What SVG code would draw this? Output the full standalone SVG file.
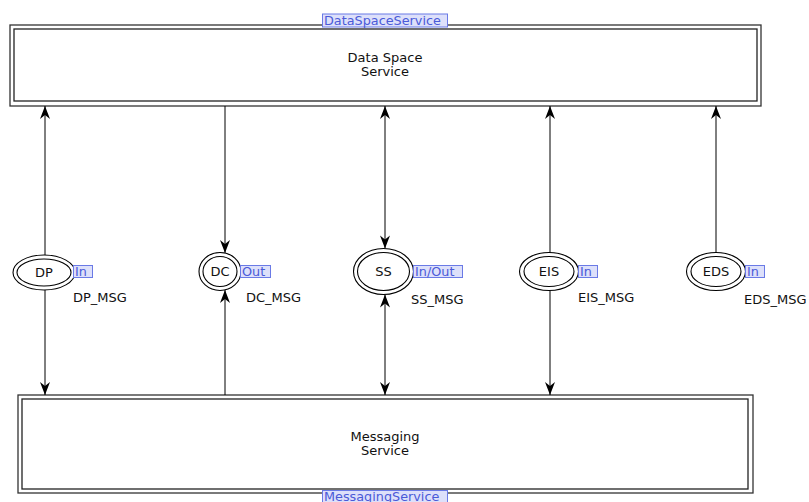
<svg xmlns="http://www.w3.org/2000/svg" width="809" height="502" viewBox="0 0 809 502">
<style>
  .t { font-family: "DejaVu Sans", Verdana, sans-serif; font-size: 13px; fill: #111; }
  .c { text-anchor: middle; }
  .lb { fill: #dde0fa; stroke: #6a7ae6; stroke-width: 1; }
  .lt { font-family: "DejaVu Sans", Verdana, sans-serif; font-size: 12.8px; fill: #4a5ad8; }
  .bo { fill: #fff; stroke: #333; stroke-width: 1.3; }
  .bi { fill: #fff; stroke: #222; stroke-width: 1.3; }
  .pl { fill: #fff; stroke: #000; stroke-width: 1.1; }
  .ar { stroke: #000; stroke-width: 1; fill: none; }
</style>
<defs>
  <marker id="ah" viewBox="-14 -6 15 12" refX="0" refY="0" markerWidth="15" markerHeight="12" markerUnits="userSpaceOnUse" orient="auto-start-reverse">
    <path d="M0,0 L-13,-5 L-9,0 L-13,5 Z" fill="#000"/>
  </marker>
</defs>
<rect width="809" height="502" fill="#fff"/>

<g id="DataSpaceService">
  <rect class="bo" x="10" y="25" width="751" height="81"/>
  <rect class="bi" x="14" y="29" width="743" height="72"/>
  <text class="t c" x="385" y="62">Data Space</text>
  <text class="t c" x="385" y="76">Service</text>
  <rect class="lb" x="322.5" y="14" width="125" height="13"/>
  <text class="lt" x="324" y="25">DataSpaceService</text>
</g>

<g id="MessagingService">
  <rect class="bo" x="18" y="395" width="735" height="98"/>
  <rect class="bi" x="22" y="399" width="726" height="90"/>
  <text class="t c" x="385" y="441">Messaging</text>
  <text class="t c" x="385" y="455">Service</text>
  <rect class="lb" x="322.5" y="490.5" width="125" height="14"/>
  <text class="lt" x="324" y="501">MessagingService</text>
</g>

<g id="connectors">
  <line class="ar" x1="45" y1="255" x2="45" y2="106" marker-end="url(#ah)"/>
  <line class="ar" x1="45" y1="290" x2="45" y2="395" marker-end="url(#ah)"/>
  <line class="ar" x1="225" y1="106" x2="225" y2="253" marker-end="url(#ah)"/>
  <line class="ar" x1="225" y1="395" x2="225" y2="290" marker-end="url(#ah)"/>
  <line class="ar" x1="385" y1="106" x2="385" y2="248.5" marker-start="url(#ah)" marker-end="url(#ah)"/>
  <line class="ar" x1="385" y1="294.5" x2="385" y2="395" marker-start="url(#ah)" marker-end="url(#ah)"/>
  <line class="ar" x1="550" y1="253" x2="550" y2="106" marker-end="url(#ah)"/>
  <line class="ar" x1="550" y1="291" x2="550" y2="395" marker-end="url(#ah)"/>
  <line class="ar" x1="716" y1="253" x2="716" y2="106" marker-end="url(#ah)"/>
</g>

<g id="DP">
  <ellipse class="pl" cx="44" cy="272.5" rx="31" ry="17.5"/>
  <ellipse class="pl" cx="44" cy="272.5" rx="27" ry="13.5"/>
  <text class="t c" x="44" y="277">DP</text>
  <rect class="lb" x="73.5" y="265.5" width="19" height="12"/>
  <text class="lt" x="75" y="276">In</text>
  <text class="t" x="73" y="302">DP_MSG</text>
</g>

<g id="DC">
  <ellipse class="pl" cx="220" cy="271.5" rx="21" ry="19"/>
  <ellipse class="pl" cx="220" cy="271.5" rx="17" ry="15"/>
  <text class="t c" x="220" y="276">DC</text>
  <rect class="lb" x="240.5" y="265.5" width="30" height="12"/>
  <text class="lt" x="242" y="276">Out</text>
  <text class="t" x="246" y="302">DC_MSG</text>
</g>

<g id="SS">
  <ellipse class="pl" cx="383.5" cy="271.5" rx="30" ry="23"/>
  <ellipse class="pl" cx="383.5" cy="271.5" rx="26" ry="19"/>
  <text class="t c" x="383.5" y="276">SS</text>
  <rect class="lb" x="413.5" y="265.5" width="49" height="12"/>
  <text class="lt" x="415" y="276">In/Out</text>
  <text class="t" x="411" y="304">SS_MSG</text>
</g>

<g id="EIS">
  <ellipse class="pl" cx="549" cy="271.5" rx="29.5" ry="19"/>
  <ellipse class="pl" cx="549" cy="271.5" rx="25" ry="15"/>
  <text class="t c" x="549" y="276">EIS</text>
  <rect class="lb" x="578.5" y="265.5" width="19" height="12"/>
  <text class="lt" x="580" y="276">In</text>
  <text class="t" x="578" y="302">EIS_MSG</text>
</g>

<g id="EDS">
  <ellipse class="pl" cx="716" cy="271.5" rx="29.5" ry="19"/>
  <ellipse class="pl" cx="716" cy="271.5" rx="25" ry="15"/>
  <text class="t c" x="716" y="276">EDS</text>
  <rect class="lb" x="745.5" y="265.5" width="19" height="12"/>
  <text class="lt" x="747" y="276">In</text>
  <text class="t" x="744" y="304">EDS_MSG</text>
</g>
</svg>
